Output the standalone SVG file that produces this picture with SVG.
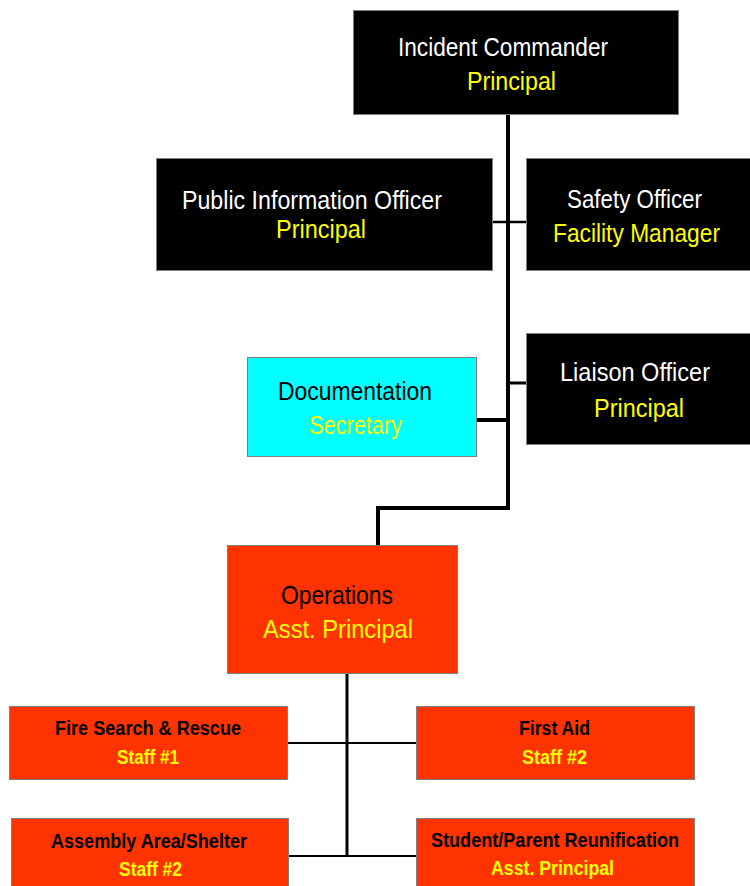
<svg xmlns="http://www.w3.org/2000/svg" width="750" height="886" viewBox="0 0 750 886">
<style>
.box{stroke:#808080;stroke-width:1}
.blk{fill:#000000}
.cy{fill:#00FFFF}
.rd{fill:#FF3300}
text{font-family:"Liberation Sans",Arial,sans-serif;font-size:25px}
.w{fill:#FFFFFF}
.y{fill:#FFFF00}
.k{fill:#000000}
.sm{font-size:20px;font-weight:bold}
.ln{stroke:#000000;fill:none}
</style>
<rect width="750" height="886" fill="#FFFFFF"/>
<g id="connectors">
<line class="ln" x1="508" y1="115" x2="508" y2="510" stroke-width="4"/>
<line class="ln" x1="492" y1="222" x2="526" y2="222" stroke-width="2.5"/>
<line class="ln" x1="508" y1="383" x2="526" y2="383" stroke-width="3"/>
<line class="ln" x1="476" y1="420" x2="508" y2="420" stroke-width="4"/>
<polyline class="ln" points="510,508 378,508 378,545" stroke-width="4"/>
<line class="ln" x1="347" y1="673" x2="347" y2="857" stroke-width="3"/>
<line class="ln" x1="287" y1="743" x2="417" y2="743" stroke-width="2"/>
<line class="ln" x1="288" y1="856" x2="417" y2="856" stroke-width="2"/>
</g>
<g id="incident-commander">
<rect class="box blk" x="353.5" y="10.5" width="325" height="104"/>
<text class="w" x="398" y="56" textLength="210" lengthAdjust="spacingAndGlyphs">Incident Commander</text>
<text class="y" x="467" y="90" textLength="89" lengthAdjust="spacingAndGlyphs">Principal</text>
</g>
<g id="public-information-officer">
<rect class="box blk" x="156.5" y="158.5" width="336" height="112"/>
<text class="w" x="182" y="209" textLength="260" lengthAdjust="spacingAndGlyphs">Public Information Officer</text>
<text class="y" x="276" y="238" textLength="90" lengthAdjust="spacingAndGlyphs">Principal</text>
</g>
<g id="safety-officer">
<rect class="box blk" x="526.5" y="158.5" width="230" height="112"/>
<text class="w" x="567" y="208" textLength="135" lengthAdjust="spacingAndGlyphs">Safety Officer</text>
<text class="y" x="553" y="242" textLength="167" lengthAdjust="spacingAndGlyphs">Facility Manager</text>
</g>
<g id="documentation">
<rect class="box cy" x="247.5" y="357.5" width="229" height="99"/>
<text class="k" x="278" y="400" textLength="154" lengthAdjust="spacingAndGlyphs">Documentation</text>
<text class="y" x="309" y="434" textLength="93" lengthAdjust="spacingAndGlyphs">Secretary</text>
</g>
<g id="liaison-officer">
<rect class="box blk" x="526.5" y="333.5" width="230" height="111"/>
<text class="w" x="560" y="381" textLength="150" lengthAdjust="spacingAndGlyphs">Liaison Officer</text>
<text class="y" x="594" y="417" textLength="90" lengthAdjust="spacingAndGlyphs">Principal</text>
</g>
<g id="operations">
<rect class="box rd" x="227.5" y="545.5" width="230" height="128"/>
<text class="k" x="281" y="604" textLength="112" lengthAdjust="spacingAndGlyphs">Operations</text>
<text class="y" x="263" y="638" textLength="150" lengthAdjust="spacingAndGlyphs">Asst. Principal</text>
</g>
<g id="fire-search-rescue">
<rect class="box rd" x="9.5" y="706.5" width="278" height="73"/>
<text class="k sm" x="55" y="735" textLength="186" lengthAdjust="spacingAndGlyphs">Fire Search &amp; Rescue</text>
<text class="y sm" x="117" y="764" textLength="62" lengthAdjust="spacingAndGlyphs">Staff #1</text>
</g>
<g id="first-aid">
<rect class="box rd" x="416.5" y="706.5" width="278" height="73"/>
<text class="k sm" x="519" y="735" textLength="71" lengthAdjust="spacingAndGlyphs">First Aid</text>
<text class="y sm" x="522" y="764" textLength="65" lengthAdjust="spacingAndGlyphs">Staff #2</text>
</g>
<g id="assembly-area-shelter">
<rect class="box rd" x="11.5" y="818.5" width="277" height="80"/>
<text class="k sm" x="51" y="848" textLength="196" lengthAdjust="spacingAndGlyphs">Assembly Area/Shelter</text>
<text class="y sm" x="119" y="876" textLength="63" lengthAdjust="spacingAndGlyphs">Staff #2</text>
</g>
<g id="student-parent-reunification">
<rect class="box rd" x="416.5" y="818.5" width="278" height="80"/>
<text class="k sm" x="431" y="847" textLength="248" lengthAdjust="spacingAndGlyphs">Student/Parent Reunification</text>
<text class="y sm" x="491" y="875" textLength="123" lengthAdjust="spacingAndGlyphs">Asst. Principal</text>
</g>
</svg>
